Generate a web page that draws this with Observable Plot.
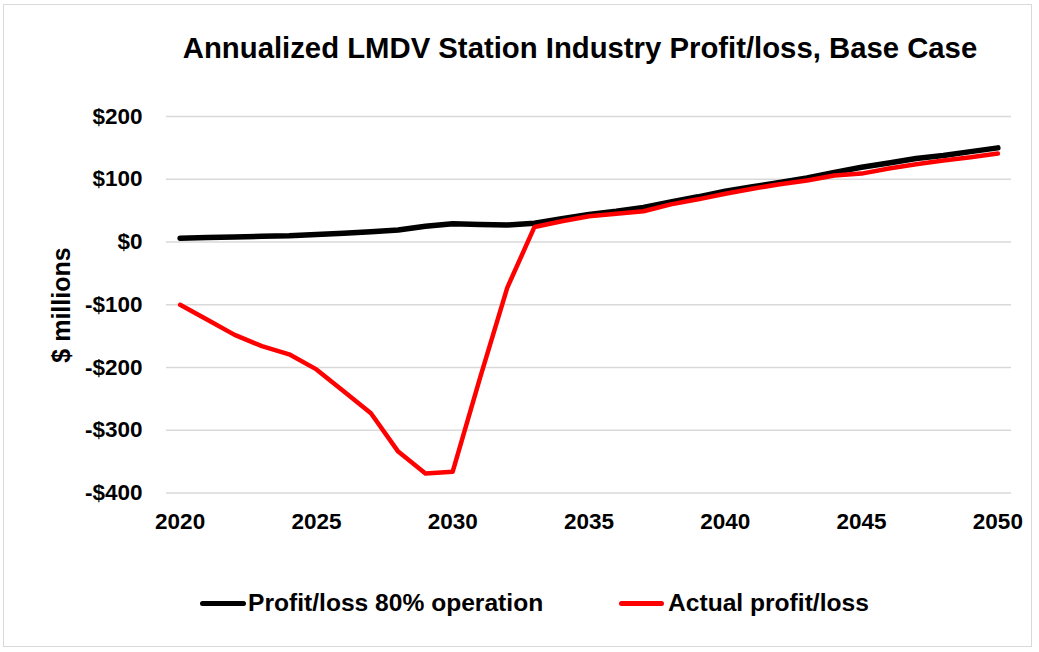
<!DOCTYPE html>
<html>
<head>
<meta charset="utf-8">
<script src="https://cdn.jsdelivr.net/npm/d3@7"></script>
<script src="https://cdn.jsdelivr.net/npm/@observablehq/plot@0.6"></script>
<style>
  html, body { margin: 0; padding: 0; background: #fff; }
  #wrap { position: relative; width: 1039px; height: 652px; overflow: hidden; font-family: "Liberation Sans", Arial, sans-serif; font-weight: bold; color: #000; }
  #frame { position: absolute; left: 3px; top: 4px; width: 1029px; height: 643px; border: 1px solid #d9d9d9; box-sizing: border-box; }
  #title { position: absolute; left: 121px; width: 918px; top: 34px; text-align: center; font-size: 29.3px; line-height: 28px; white-space: nowrap; }
  #ylabel { position: absolute; left: 61px; top: 305px; transform: translate(-50%, -50%) rotate(-90deg); font-size: 25px; white-space: nowrap; }
  #chart { position: absolute; left: 0; top: 0; }
  .leg { position: absolute; font-size: 24.6px; line-height: 24px; white-space: nowrap; }
  .sw { position: absolute; height: 5px; border-radius: 3px; }
</style>
</head>
<body>
<div id="wrap">
  <div id="frame"></div>
  <div id="chart"></div>
  <div id="title">Annualized LMDV Station Industry Profit/loss, Base Case</div>
  <div id="ylabel">$ millions</div>
  <div id="legend"></div>
</div>
<script>
const years = [2020,2021,2022,2023,2024,2025,2026,2027,2028,2029,2030,2031,2032,2033,2034,2035,2036,2037,2038,2039,2040,2041,2042,2043,2044,2045,2046,2047,2048,2049,2050];
const profit80 = [6,7,8,9,10,12,14,16.5,19,25,29,28,27,30,37,44,49,55,64,72,81,88,95,102,111,119,126,133,138,144,150];
const actual = [-100,-124,-148,-166,-179,-203,-238,-273,-334,-369,-366,-217,-73,24,33,41,45,49,60,68,77,85,92,98,106,109,117,124,130,135,141];
const seriesNames = ["Profit/loss 80% operation", "Actual profit/loss"];
const seriesColors = ["#000000", "#ff0000"];
const xTicks = [2020,2025,2030,2035,2040,2045,2050];
const yTicks = [-400,-300,-200,-100,0,100,200];

const rows = [];
years.forEach((yr, i) => {
  rows.push({year: yr, value: profit80[i], series: seriesNames[0]});
  rows.push({year: yr, value: actual[i], series: seriesNames[1]});
});

const fmtY = d => d < 0 ? "-$" + Math.abs(d) : "$" + d;

const chart = Plot.plot({
  width: 1039,
  height: 560,
  marginLeft: 166,
  marginRight: 28,
  marginTop: 116,
  marginBottom: 67.5,
  style: {fontFamily: '"Liberation Sans", Arial, sans-serif', fontWeight: "bold", background: "transparent", overflow: "visible"},
  x: {domain: [2019.5, 2050.5]},
  y: {domain: [-400, 200]},
  color: {domain: seriesNames, range: seriesColors},
  marks: [
    Plot.ruleY(yTicks, {stroke: "#d9d9d9", strokeWidth: 1.3}),
    Plot.lineY(rows.filter(d => d.series === seriesNames[0]), {x: "year", y: "value", stroke: "series", strokeWidth: 5.5, strokeLinecap: "round", strokeLinejoin: "round"}),
    Plot.lineY(rows.filter(d => d.series === seriesNames[1]), {x: "year", y: "value", stroke: "series", strokeWidth: 4.5, strokeLinecap: "round", strokeLinejoin: "round"}),
    Plot.axisX({ticks: xTicks, tickFormat: d => String(d), tickSize: 0, tickPadding: 20, fontSize: 22.5, fontWeight: "bold", fill: "#000", label: null}),
    Plot.axisY({ticks: yTicks, tickFormat: fmtY, tickSize: 0, tickPadding: 24, fontSize: 22.5, fontWeight: "bold", fill: "#000", label: null})
  ]
});
document.getElementById("chart").appendChild(chart);

// legend
const legend = document.getElementById("legend");
const legPos = [{sw: 200, swW: 46, tx: 248}, {sw: 619, swW: 45, tx: 668}];
seriesNames.forEach((name, i) => {
  const sw = document.createElement("div");
  sw.className = "sw";
  sw.style.left = legPos[i].sw + "px";
  sw.style.width = legPos[i].swW + "px";
  sw.style.top = (603 - 2.5) + "px";
  sw.style.background = seriesColors[i];
  legend.appendChild(sw);
  const t = document.createElement("div");
  t.className = "leg";
  t.style.left = legPos[i].tx + "px";
  t.style.top = (603 - 12) + "px";
  t.textContent = name;
  legend.appendChild(t);
});
</script>
</body>
</html>
